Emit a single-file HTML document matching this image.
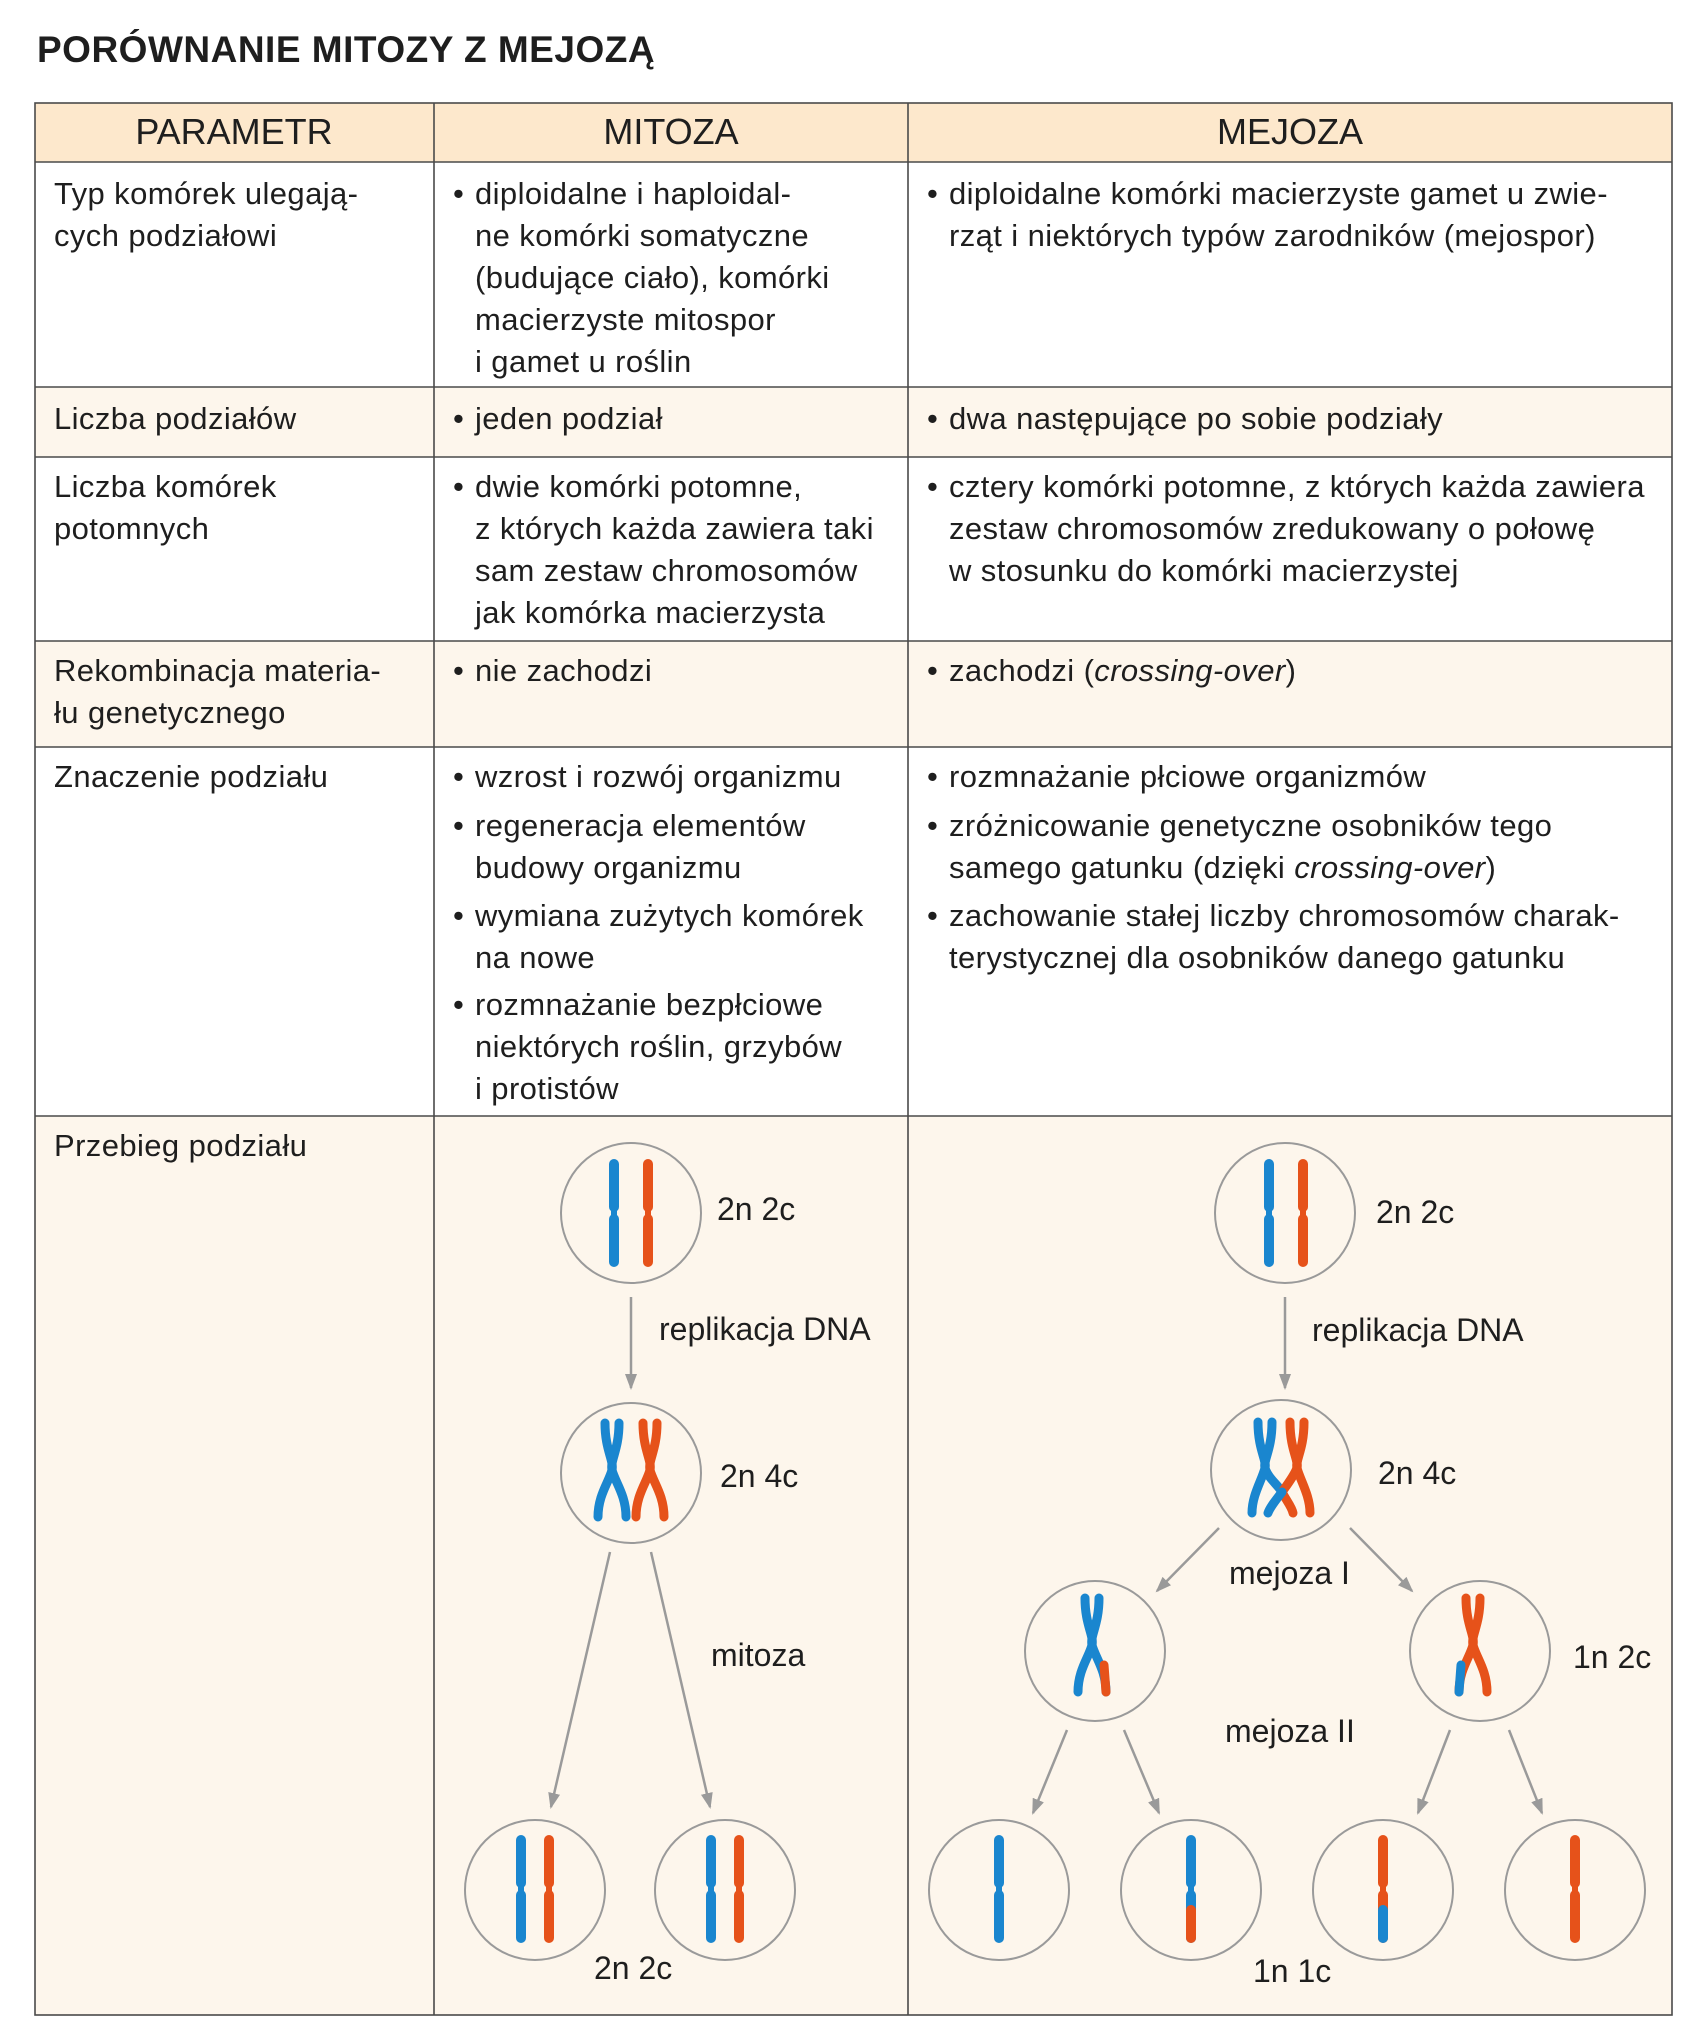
<!DOCTYPE html>
<html><head><meta charset="utf-8">
<style>
*{margin:0;padding:0;box-sizing:border-box}
body{width:1701px;height:2042px;background:#fff;position:relative;font-family:"Liberation Sans","DejaVu Sans",sans-serif;color:#1e1e1e;overflow:hidden}
.t{position:absolute;font-size:31px;letter-spacing:0.4px;line-height:42px;white-space:nowrap}
.b{position:absolute;font-size:31px;letter-spacing:0.4px;line-height:42px;white-space:nowrap}
.b::before{content:"•";position:absolute;left:-22px}
.h{position:absolute;font-size:36px;top:111px;line-height:42px;transform:translateX(-50%)}
.bg{position:absolute;left:35px;width:1637px}
</style></head><body>
<div style="position:absolute;left:37px;top:29px;font-size:37px;font-weight:bold;letter-spacing:0.5px">PORÓWNANIE MITOZY Z MEJOZĄ</div>

<div class="bg" style="top:103px;height:59px;background:#fde8cc"></div>
<div class="bg" style="top:387px;height:70px;background:#fdf6ec"></div>
<div class="bg" style="top:641px;height:106px;background:#fdf6ec"></div>
<div class="bg" style="top:1116px;height:899px;background:#fdf6ec"></div>

<svg width="1701" height="2042" style="position:absolute;left:0;top:0">
<defs>
<marker id="ar" markerWidth="16" markerHeight="12" refX="14" refY="6" orient="auto" markerUnits="userSpaceOnUse">
<path d="M0,0 L16,6 L0,12 Z" fill="#9a9a9a"/></marker>
<g id="bar"><path d="M0,-49 V-6 M0,6 V49" stroke-width="10" stroke-linecap="round" fill="none"/><path d="M0,-12 V12" stroke-width="6" fill="none"/></g>
<g id="xx" fill="none" stroke-width="9" stroke-linecap="round"><path d="M-7,-47 C-7,-20 2,-10 0,0 C-3,12 -14,25 -14,47"/><path d="M7,-47 C7,-20 -2,-10 0,0 C3,12 14,25 14,47"/></g>
</defs>
<g stroke="#4a4a4a" stroke-width="1.6" fill="none">
<rect x="35" y="103" width="1637" height="1912"/>
<line x1="434" y1="103" x2="434" y2="2015"/>
<line x1="908" y1="103" x2="908" y2="2015"/>
<line x1="35" y1="162" x2="1672" y2="162"/>
<line x1="35" y1="387" x2="1672" y2="387"/>
<line x1="35" y1="457" x2="1672" y2="457"/>
<line x1="35" y1="641" x2="1672" y2="641"/>
<line x1="35" y1="747" x2="1672" y2="747"/>
<line x1="35" y1="1116" x2="1672" y2="1116"/>
</g>
<g stroke="#9a9a9a" stroke-width="2" fill="#fdf6ec">
<circle cx="631" cy="1213" r="70"/><circle cx="631" cy="1473" r="70"/>
<circle cx="535" cy="1890" r="70"/><circle cx="725" cy="1890" r="70"/>
<circle cx="1285" cy="1213" r="70"/><circle cx="1281" cy="1470" r="70"/>
<circle cx="1095" cy="1651" r="70"/><circle cx="1480" cy="1651" r="70"/>
<circle cx="999" cy="1890" r="70"/><circle cx="1191" cy="1890" r="70"/>
<circle cx="1383" cy="1890" r="70"/><circle cx="1575" cy="1890" r="70"/>
</g>
<g stroke="#9a9a9a" stroke-width="2.5" marker-end="url(#ar)">
<line x1="631" y1="1297" x2="631" y2="1388"/>
<line x1="610" y1="1552" x2="551" y2="1807"/>
<line x1="651" y1="1552" x2="710" y2="1807"/>
<line x1="1285" y1="1297" x2="1285" y2="1388"/>
<line x1="1219" y1="1528" x2="1157" y2="1591"/>
<line x1="1350" y1="1528" x2="1412" y2="1591"/>
<line x1="1067" y1="1730" x2="1033" y2="1813"/>
<line x1="1124" y1="1730" x2="1159" y2="1813"/>
<line x1="1450" y1="1730" x2="1418" y2="1813"/>
<line x1="1509" y1="1730" x2="1542" y2="1813"/>
</g>
<use href="#bar" x="614" y="1213" stroke="#1a86cf"/>
<use href="#bar" x="648" y="1213" stroke="#e6521a"/>
<use href="#xx" x="612" y="1470" stroke="#1a86cf"/>
<use href="#xx" x="650" y="1470" stroke="#e6521a"/>
<use href="#bar" x="521" y="1889" stroke="#1a86cf"/>
<use href="#bar" x="549" y="1889" stroke="#e6521a"/>
<use href="#bar" x="711" y="1889" stroke="#1a86cf"/>
<use href="#bar" x="739" y="1889" stroke="#e6521a"/>
<use href="#bar" x="1269" y="1213" stroke="#1a86cf"/>
<use href="#bar" x="1303" y="1213" stroke="#e6521a"/>
<g fill="none" stroke-width="9" stroke-linecap="round">
<path stroke="#e6521a" d="M1290,1422 C1290,1450 1299,1460 1297,1468 C1300,1480 1310,1495 1310,1513 M1304,1422 C1304,1450 1295,1460 1297,1468"/>
<path stroke="#1a86cf" d="M1258,1422 C1258,1450 1267,1460 1265,1468 C1262,1480 1252,1495 1252,1513 M1272,1422 C1272,1450 1263,1460 1265,1468 C1268,1478 1278,1485 1282,1492"/>
<path stroke="#e6521a" d="M1282,1492 C1286,1500 1292,1507 1293,1513 M1297,1468 C1294,1476 1287,1485 1282,1492"/>
<path stroke="#1a86cf" d="M1282,1492 C1276,1500 1270,1507 1268,1513"/>
</g>
<use href="#xx" x="1092" y="1645" stroke="#1a86cf"/>
<path d="M1104,1665 L1106,1692" stroke="#e6521a" stroke-width="9" stroke-linecap="round" fill="none"/>
<use href="#xx" x="1473" y="1645" stroke="#e6521a"/>
<path d="M1461,1665 L1459,1692" stroke="#1a86cf" stroke-width="9" stroke-linecap="round" fill="none"/>
<use href="#bar" x="999" y="1889" stroke="#1a86cf"/>
<use href="#bar" x="1191" y="1889" stroke="#1a86cf"/>
<path d="M1191,1910 V1938" stroke="#e6521a" stroke-width="10" stroke-linecap="round"/>
<use href="#bar" x="1383" y="1889" stroke="#e6521a"/>
<path d="M1383,1910 V1938" stroke="#1a86cf" stroke-width="10" stroke-linecap="round"/>
<use href="#bar" x="1575" y="1889" stroke="#e6521a"/>
<g font-family="Liberation Sans, sans-serif" font-size="32" fill="#1e1e1e">
<text x="717" y="1220">2n 2c</text>
<text x="659" y="1340">replikacja DNA</text>
<text x="720" y="1487">2n 4c</text>
<text x="711" y="1666">mitoza</text>
<text x="594" y="1979">2n 2c</text>
<text x="1376" y="1223">2n 2c</text>
<text x="1312" y="1341">replikacja DNA</text>
<text x="1378" y="1484">2n 4c</text>
<text x="1229" y="1584">mejoza I</text>
<text x="1573" y="1668">1n 2c</text>
<text x="1225" y="1742">mejoza II</text>
<text x="1253" y="1982">1n 1c</text>
</g>
</svg>

<div class="h" style="left:234px">PARAMETR</div>
<div class="h" style="left:671px">MITOZA</div>
<div class="h" style="left:1290px">MEJOZA</div>

<div class="t" style="left:54px;top:173px">Typ komórek ulegają-<br>cych podziałowi</div>
<div class="b" style="left:475px;top:173px">diploidalne i haploidal-<br>ne komórki somatyczne<br>(budujące ciało), komórki<br>macierzyste mitospor<br>i gamet u roślin</div>
<div class="b" style="left:949px;top:173px">diploidalne komórki macierzyste gamet u zwie-<br>rząt i niektórych typów zarodników (mejospor)</div>

<div class="t" style="left:54px;top:398px">Liczba podziałów</div>
<div class="b" style="left:475px;top:398px">jeden podział</div>
<div class="b" style="left:949px;top:398px">dwa następujące po sobie podziały</div>

<div class="t" style="left:54px;top:466px">Liczba komórek<br>potomnych</div>
<div class="b" style="left:475px;top:466px">dwie komórki potomne,<br>z których każda zawiera taki<br>sam zestaw chromosomów<br>jak komórka macierzysta</div>
<div class="b" style="left:949px;top:466px">cztery komórki potomne, z których każda zawiera<br>zestaw chromosomów zredukowany o połowę<br>w stosunku do komórki macierzystej</div>

<div class="t" style="left:54px;top:650px">Rekombinacja materia-<br>łu genetycznego</div>
<div class="b" style="left:475px;top:650px">nie zachodzi</div>
<div class="b" style="left:949px;top:650px">zachodzi (<i>crossing-over</i>)</div>

<div class="t" style="left:54px;top:756px">Znaczenie podziału</div>
<div class="b" style="left:475px;top:756px">wzrost i rozwój organizmu</div>
<div class="b" style="left:475px;top:805px">regeneracja elementów<br>budowy organizmu</div>
<div class="b" style="left:475px;top:895px">wymiana zużytych komórek<br>na nowe</div>
<div class="b" style="left:475px;top:984px">rozmnażanie bezpłciowe<br>niektórych roślin, grzybów<br>i protistów</div>
<div class="b" style="left:949px;top:756px">rozmnażanie płciowe organizmów</div>
<div class="b" style="left:949px;top:805px">zróżnicowanie genetyczne osobników tego<br>samego gatunku (dzięki <i>crossing-over</i>)</div>
<div class="b" style="left:949px;top:895px">zachowanie stałej liczby chromosomów charak-<br>terystycznej dla osobników danego gatunku</div>

<div class="t" style="left:54px;top:1125px">Przebieg podziału</div>
</body></html>
